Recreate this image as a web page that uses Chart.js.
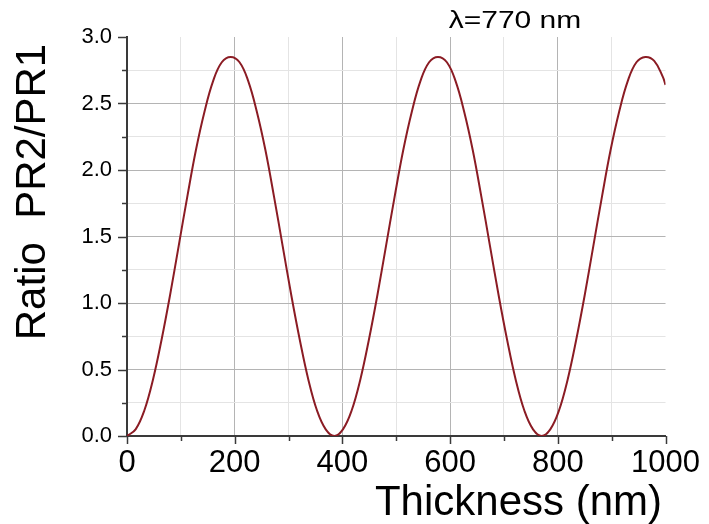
<!DOCTYPE html>
<html>
<head>
<meta charset="utf-8">
<script src="https://cdn.jsdelivr.net/npm/chart.js@4.4.1/dist/chart.umd.min.js"></script>
<style>
html, body { margin: 0; padding: 0; background: #fff; }
#wrap { width: 709px; height: 524px; }
</style>
</head>
<body>
<div id="wrap"><canvas id="ratioChart" width="709" height="524"></canvas></div>
<script>
// ===== DATA =====
const thickness = [
    0, 16, 32, 48, 64, 80, 96, 112, 128, 144, 160, 176, 192.5, 209, 225, 241, 257, 273, 289, 305, 321, 337, 353, 369, 385,
    401, 417, 433, 449, 465, 481, 497, 513, 529, 545, 561, 577.5, 594, 610, 626, 642, 658, 674, 690, 706, 722, 738, 754, 770,
    786, 802, 818, 834, 850, 866, 882, 898, 914, 930, 946, 962.5, 979, 995, 1000
];
const ratio = [
    0, 0.05, 0.19, 0.42, 0.72, 1.06, 1.43, 1.80, 2.15, 2.44, 2.67, 2.81, 2.85, 2.81, 2.67, 2.44, 2.15, 1.80, 1.43, 1.06, 0.72, 0.42, 0.19, 0.05, 0,
    0.05, 0.19, 0.42, 0.72, 1.06, 1.43, 1.80, 2.15, 2.44, 2.67, 2.81, 2.85, 2.81, 2.67, 2.44, 2.15, 1.80, 1.43, 1.06, 0.72, 0.42, 0.19, 0.05, 0,
    0.05, 0.19, 0.42, 0.72, 1.06, 1.43, 1.80, 2.15, 2.44, 2.67, 2.81, 2.85, 2.82, 2.70, 2.64
];
const xMajorTicks = [0, 200, 400, 600, 800, 1000];
const yMajorTicks = [0.0, 0.5, 1.0, 1.5, 2.0, 2.5, 3.0];
const xTitle = 'Thickness (nm)';
const yTitle = 'Ratio  PR2/PR1';
const noteText = 'λ=770 nm';

const FONT = "'Liberation Sans', Arial, sans-serif";
const AXIS = '#3a3a3a';

const isMajorX = v => xMajorTicks.some(m => Math.abs(m - v) < 1e-6);
const isMajorY = v => yMajorTicks.some(m => Math.abs(m - v) < 1e-6);

// ===== tick marks, titles, note =====
const axisDecor = {
    id: 'axisDecor',
    afterDraw(chart) {
        const { ctx, chartArea: a, scales: { x, y } } = chart;
        ctx.save();
        ctx.strokeStyle = AXIS;
        ctx.lineWidth = 1.5;
        x.ticks.forEach(t => {
            const px = Math.round(x.getPixelForValue(t.value)) + 0.5;
            const len = isMajorX(t.value) ? 8 : 5;
            ctx.beginPath(); ctx.moveTo(px, a.bottom); ctx.lineTo(px, a.bottom + len); ctx.stroke();
        });
        y.ticks.forEach(t => {
            const py = Math.round(y.getPixelForValue(t.value)) + 0.5;
            const len = isMajorY(t.value) ? 9 : 5;
            ctx.beginPath(); ctx.moveTo(a.left, py); ctx.lineTo(a.left - len, py); ctx.stroke();
        });

        ctx.fillStyle = '#000';
        // x title
        ctx.font = `42px ${FONT}`;
        ctx.textAlign = 'right';
        ctx.textBaseline = 'alphabetic';
        ctx.fillText(xTitle, 662, 515);

        // y title
        ctx.save();
        ctx.translate(45, 192);
        ctx.rotate(-Math.PI / 2);
        ctx.font = `42px ${FONT}`;
        ctx.textAlign = 'center';
        ctx.fillText(yTitle, 0, 0);
        ctx.restore();

        // wavelength note
        ctx.save();
        ctx.translate(515, 28);
        ctx.scale(1.25, 1);
        ctx.font = `24px ${FONT}`;
        ctx.textAlign = 'center';
        ctx.fillText(noteText, 0, 0);
        ctx.restore();

        ctx.restore();
    }
};

const ctx = document.getElementById('ratioChart').getContext('2d');
new Chart(ctx, {
    type: 'line',
    data: {
        datasets: [{
            data: thickness.map((t, i) => ({ x: t, y: ratio[i] })),
            borderColor: '#8b1c24',
            borderWidth: 2,
            pointRadius: 0,
            fill: false,
            tension: 0.4
        }]
    },
    options: {
        responsive: false,
        animation: false,
        events: [],
        layout: { padding: { top: 37, right: 40, left: 0, bottom: 0 } },
        plugins: { legend: { display: false }, tooltip: { enabled: false } },
        scales: {
            x: {
                type: 'linear',
                min: 0, max: 1000,
                afterFit: s => { s.height = 88; },
                border: { color: AXIS, width: 2 },
                grid: {
                    drawTicks: false,
                    lineWidth: 1,
                    color: c => c.tick.value >= 1000 ? 'transparent' : (isMajorX(c.tick.value) ? '#b4b4b4' : '#e4e4e4')
                },
                ticks: {
                    stepSize: 100,
                    autoSkip: false,
                    maxRotation: 0,
                    padding: 9,
                    color: '#000',
                    font: { family: FONT, size: 31 },
                    callback: v => isMajorX(v) ? String(v) : ''
                }
            },
            y: {
                min: 0, max: 3,
                afterFit: s => { s.width = 127; },
                border: { color: AXIS, width: 2 },
                grid: {
                    drawTicks: false,
                    lineWidth: 1,
                    color: c => c.tick.value >= 3 ? 'transparent' : (isMajorY(c.tick.value) ? '#b4b4b4' : '#e4e4e4')
                },
                ticks: {
                    stepSize: 0.25,
                    autoSkip: false,
                    padding: 15,
                    color: '#000',
                    font: { family: FONT, size: 22 },
                    callback: v => isMajorY(v) ? v.toFixed(1) : ''
                }
            }
        }
    },
    plugins: [axisDecor]
});
</script>
</body>
</html>
